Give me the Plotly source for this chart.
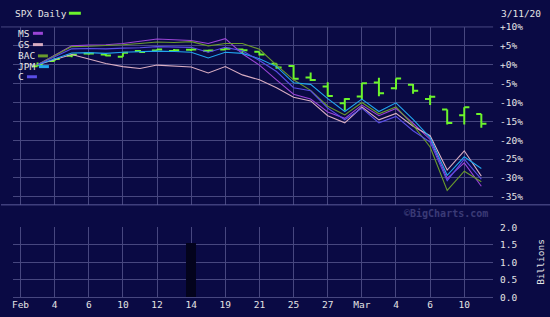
import plotly.graph_objects as go

# ---------------- data ----------------
# trading-day index (0 = Jan 31, 1 = Feb 3, ..., 27 = Mar 11)
day_idx = list(range(1, 28))
tick_pos = list(range(0, 27, 2))
tick_text = ["Feb", "4", "6", "10", "12", "14", "19", "21", "25", "27", "Mar", "4", "6", "10"]

# SPX daily OHLC, % change vs Feb 3 close
spx_open = [-0.41, 0.98, 2.34, 2.95, 2.67, 2.13, 3.60, 3.74, 3.60, 3.98, 3.70, 4.05, 4.05, 3.43,
            0.27, -0.31, -3.36, -5.74, -10.22, -8.45, -4.69, -6.25, -5.33, -9.07, -11.85, -13.40, -13.03]
spx_high = [0.60, 1.79, 2.73, 3.05, 2.85, 3.18, 3.90, 4.08, 4.19, 4.06, 3.88, 4.45, 4.32, 3.44,
            0.34, -0.06, -2.04, -4.67, -8.90, -4.86, -3.45, -3.63, -5.11, -8.09, -11.85, -11.28, -13.03]
spx_low = [-0.41, 0.98, 2.00, 2.63, 2.25, 2.12, 3.19, 3.72, 3.43, 3.61, 3.28, 4.00, 2.83, 2.45,
           -1.05, -4.01, -4.31, -8.36, -12.10, -9.35, -8.38, -6.60, -7.67, -10.69, -15.84, -15.85, -16.67]
spx_close = [0.00, 1.50, 2.64, 2.98, 2.43, 3.18, 3.35, 4.02, 3.85, 4.04, 3.74, 4.22, 3.83, 2.73,
             -0.71, -3.72, -4.08, -8.32, -9.07, -4.88, -7.56, -3.66, -6.92, -8.51, -15.46, -11.29, -15.62]

# comparison lines, % change vs Feb 3 close
ms = [0, 2.5, 5.0, 5.2, 5.3, 5.6, 6.2, 6.8, 6.6, 6.4, 5.6, 6.9, 2.9, -0.1,
      -4.0, -7.8, -9.1, -12.5, -14.2, -10.7, -13.5, -11.6, -15.5, -19.8, -30.1, -26.0, -32.2]
gs = [0, 1.3, 2.7, 1.5, 0.3, -0.5, -1.0, -0.1, -0.4, -0.6, -2.2, -0.5, -2.7, -4.0,
      -6.1, -8.6, -9.6, -13.5, -15.4, -11.2, -14.6, -12.9, -16.3, -18.8, -27.9, -22.8, -29.5]
bac = [0, 2.4, 4.8, 4.9, 5.0, 5.3, 5.6, 6.0, 5.9, 6.1, 5.0, 5.6, 5.6, 4.1,
       -0.1, -4.0, -6.8, -11.0, -13.3, -10.0, -13.0, -11.2, -16.0, -21.8, -33.3, -28.2, -31.0]
jpm = [0, 1.6, 3.1, 3.2, 3.0, 3.3, 3.4, 3.6, 3.5, 3.3, 1.8, 3.3, 3.0, 1.6,
       -0.5, -4.8, -5.2, -9.0, -12.4, -9.1, -12.4, -10.1, -14.5, -19.3, -29.3, -24.4, -27.5]
c = [0, 2.1, 4.2, 4.3, 4.2, 4.4, 4.5, 4.8, 4.7, 4.6, 3.3, 4.6, 3.7, 1.1,
     -1.8, -6.1, -6.9, -11.5, -14.6, -11.5, -15.4, -13.7, -17.5, -20.5, -30.7, -25.0, -30.3]

series_names = ["MS", "GS", "BAC", "JPM", "C"]
series_vals = [ms, gs, bac, jpm, c]
series_colors = ["#9b45d6", "#d9adc2", "#6a9a2c", "#22a6ee", "#5a4ee6"]

# volume (billions)
vol_x = [10]
vol_y = [1.55]

pct_ticks = [10, 5, 0, -5, -10, -15, -20, -25, -30, -35]
pct_text = ["+10%", "+5%", "+0%", "-5%", "-10%", "-15%", "-20%", "-25%", "-30%", "-35%"]
vol_ticks = [0, 0.5, 1.0, 1.5, 2.0]
vol_text = ["0.0", "0.5", "1.0", "1.5", "2.0"]

# ---------------- style ----------------
W, H = 550, 317
BG = "#0a0a44"
GRID = "#47477f"
TXT = "#e4e4e4"
GREEN = "#6cf52c"
FONT = "DejaVu Sans Mono"


def px(x):
    return x / W


def py(y):
    return 1 - y / H


fig = go.Figure()

for name, vals, col in zip(series_names, series_vals, series_colors):
    fig.add_trace(go.Scatter(x=day_idx, y=vals, mode="lines", name=name,
                             line=dict(color=col, width=1.1), xaxis="x", yaxis="y",
                             showlegend=False, hoverinfo="skip"))

fig.add_trace(go.Ohlc(x=day_idx, open=spx_open, high=spx_high, low=spx_low, close=spx_close,
                      increasing=dict(line=dict(color=GREEN, width=2)),
                      decreasing=dict(line=dict(color=GREEN, width=2)),
                      tickwidth=0.3, xaxis="x", yaxis="y", showlegend=False, name="SPX"))

fig.add_trace(go.Bar(x=vol_x, y=vol_y, width=0.6, marker=dict(color="#03031c", line=dict(width=0)),
                     xaxis="x2", yaxis="y2", showlegend=False, hoverinfo="skip"))

x_dom = [px(12), px(493)]
x_rng = [-0.44, 27.69]
main_dom = [py(206), py(21.7)]
vol_dom = [py(301.8), py(229.3)]

fig.update_layout(
    width=W, height=H,
    margin=dict(l=0, r=0, t=0, b=0),
    paper_bgcolor=BG, plot_bgcolor=BG,
    font=dict(family=FONT, size=9.5, color=TXT),
    xaxis=dict(domain=x_dom, range=x_rng, anchor="y", tickvals=tick_pos, showticklabels=False,
               showgrid=True, gridcolor=GRID, gridwidth=1, zeroline=False, ticks="",
               rangeslider=dict(visible=False), fixedrange=True),
    yaxis=dict(domain=main_dom, range=[-37.12, 10.0], anchor="x", side="right",
               tickvals=pct_ticks, ticktext=pct_text, showgrid=True, gridcolor=GRID, gridwidth=1,
               zeroline=False, ticks="", ticklabelstandoff=6),
    xaxis2=dict(domain=x_dom, range=x_rng, anchor="y2", tickvals=tick_pos, ticktext=tick_text,
                showgrid=True, gridcolor=GRID, gridwidth=1, zeroline=False, ticks="",
                tickfont=dict(size=9.5, color=TXT), ticklabelstandoff=0),
    yaxis2=dict(domain=vol_dom, range=[0, 2.0], anchor="x2", side="right",
                tickvals=vol_ticks, ticktext=vol_text, showgrid=True, gridcolor=GRID, gridwidth=1,
                zeroline=True, zerolinecolor=GRID, zerolinewidth=1, ticks="", ticklabelstandoff=6),
    bargap=0,
)

shapes = []
# separator line between panels
shapes.append(dict(type="line", xref="paper", yref="paper", x0=0, x1=1, y0=py(206), y1=py(206),
                   line=dict(color="#5c5c9a", width=1)))
# top border line (+10%)
shapes.append(dict(type="line", xref="paper", yref="paper", x0=0, x1=px(493), y0=py(21.7), y1=py(21.7),
                   line=dict(color=GRID, width=1)))

annotations = []


def label(text, x, y, color=TXT, size=9.5, xanchor="left", **kw):
    annotations.append(dict(text=text, x=px(x), y=py(y), xref="paper", yref="paper",
                            xanchor=xanchor, yanchor="middle", showarrow=False,
                            font=dict(family=FONT, size=size, color=color), **kw))


label("SPX Daily", 12, 7.5)
shapes.append(dict(type="line", xref="paper", yref="paper", x0=px(68), x1=px(80), y0=py(7.5), y1=py(7.5),
                   line=dict(color=GREEN, width=3)))
label("3/11/20", 499, 7.5)

legend_rows = [(28.3, 32, 42), (40.0, 32, 42), (51.7, 37, 47), (62.8, 38, 48), (73.3, 26, 36)]
for name, col, (yy, s0, s1) in zip(series_names, series_colors, legend_rows):
    label(name, 15, yy)
    shapes.append(dict(type="line", xref="paper", yref="paper", x0=px(s0), x1=px(s1), y0=py(yy), y1=py(yy),
                       line=dict(color=col, width=3)))

label("<b>©BigCharts.com</b>", 490, 214.5, color="#3a3a76", size=10, xanchor="right")
label("Billions", 541, 265, xanchor="center", textangle=-90)

fig.update_layout(shapes=shapes, annotations=annotations)

fig.write_html("out.html")
